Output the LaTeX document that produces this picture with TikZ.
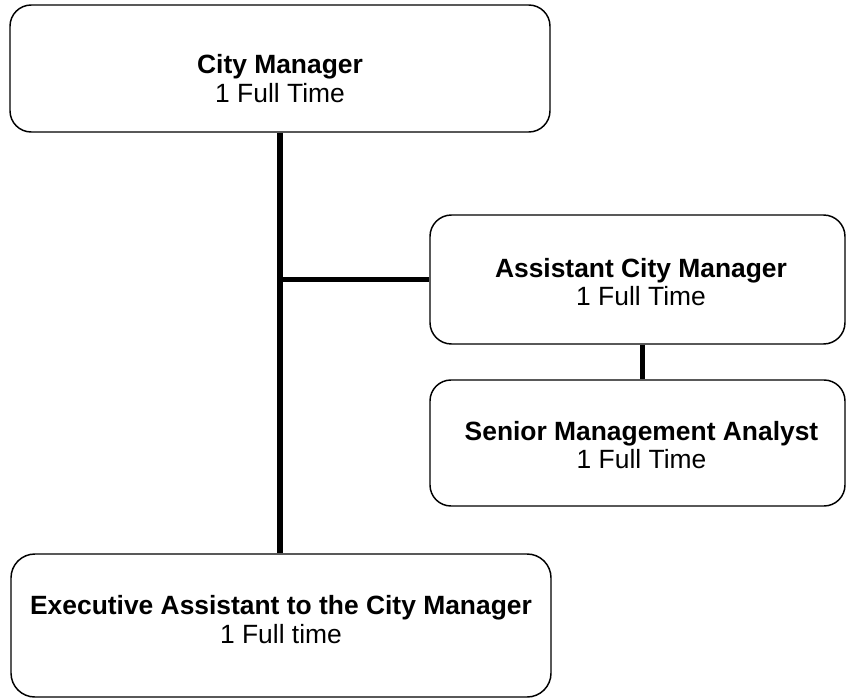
\documentclass[tikz,border=0pt]{standalone}
\usepackage{fontspec}
\setmainfont{Liberation Sans}
\begin{document}
\begin{tikzpicture}[x=0.75pt,y=-0.75pt,
  box/.style={draw=black,line width=1.1pt,inner sep=0pt,fill=white},
  title/.style={anchor=base,inner sep=0pt,font=\fontsize{19.8pt}{22pt}\selectfont\bfseries},
  sub/.style={anchor=base,inner sep=0pt,font=\fontsize{19.8pt}{22pt}\selectfont},
  link/.style={line width=4.1pt,black}]
\useasboundingbox (0,0) rectangle (847,700);
% boxes
\node[box,minimum width=405pt,minimum height=95.25pt,rounded corners=15.9pt] (city) at (280,68.5) {};
\node[box,minimum width=311.25pt,minimum height=96.75pt,rounded corners=16.1pt] (asst) at (637.5,279.5) {};
\node[box,minimum width=311.25pt,minimum height=94.5pt,rounded corners=15.75pt] (sma) at (637.5,443) {};
\node[box,minimum width=405pt,minimum height=107.25pt,rounded corners=17.9pt] (exec) at (281,625.5) {};
% connectors
\draw[link] (city.south) -- (city.south |- exec.north);
\coordinate (junction) at (city.south |- asst.west);
\draw[link] (junction) -- (asst.west);
\draw[link] ([xshift=3.75pt]asst.south) -- ([xshift=3.75pt]sma.north);
% texts
\node[title] (cityT) at (280,73) {City Manager};
\node[sub] (cityS) at (280,102) {1 Full Time};
\node[title] (asstT) at (641,277) {Assistant City Manager};
\node[sub] (asstS) at (641,305) {1 Full Time};
\node[title] (smaT) at (641.5,440) {Senior Management Analyst};
\node[sub] (smaS) at (641.5,468) {1 Full Time};
\node[title] (execT) at (281,614) {Executive Assistant to the City Manager};
\node[sub] (execS) at (281,643) {1 Full time};
\end{tikzpicture}
\end{document}
